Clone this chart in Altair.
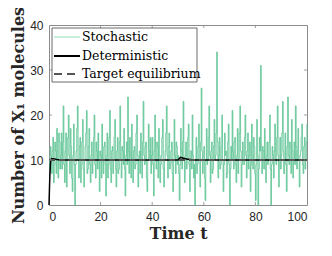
import altair as alt
import pandas as pd

stoch_vals = [
    10, 8, 13, 11, 7, 12, 15, 5, 9, 14, 12, 7, 17, 10, 6, 16, 14, 8, 11, 16,
    8, 14, 22, 9, 5, 12, 16, 4, 10, 15, 20, 11, 7, 17, 13, 6, 3, 11, 18, 9,
    0, 9, 12, 17, 22, 10, 6, 13, 15, 5, 9, 14, 19, 8, 4, 10, 13, 16, 21, 7,
    8, 13, 17, 9, 5, 11, 14, 7, 10, 15, 20, 9, 6, 14, 12, 8, 16, 10, 3, 12,
    11, 6, 18, 10, 7, 13, 14, 9, 2, 11, 16, 6, 9, 15, 21, 8, 5, 12, 13, 7,
    10, 15, 19, 8, 4, 12, 15, 7, 8, 14, 22, 10, 6, 13, 12, 9, 17, 8, 2, 11,
    14, 9, 24, 12, 7, 15, 11, 6, 18, 10, 5, 12, 13, 8, 9, 16, 20, 11, 4, 10,
    12, 7, 16, 10, 6, 14, 23, 11, 9, 13, 14, 6, 3, 10, 18, 12, 10, 15, 7, 11,
    15, 9, 2, 12, 20, 10, 8, 14, 13, 6, 17, 11, 5, 9, 11, 15, 19, 8, 4, 10,
    12, 16, 22, 11, 6, 13, 16, 8, 9, 12, 14, 7, 3, 10, 19, 11, 7, 14, 13, 9,
    11, 7, 1, 9, 17, 12, 8, 14, 23, 10, 5, 11, 14, 8, 10, 15, 18, 9, 3, 12,
    12, 8, 20, 11, 6, 9, 0, 10, 15, 7, 9, 13, 18, 10, 4, 14, 26, 12, 7, 11,
    13, 6, 1, 10, 17, 9, 10, 15, 22, 11, 5, 12, 14, 7, 8, 13, 19, 10, 11, 16,
    34, 14, 6, 11, 15, 8, 9, 13, 20, 10, 3, 9, 16, 11, 12, 6, 7, 14, 18, 9,
    0, 8, 13, 10, 21, 12, 8, 14, 15, 9, 5, 11, 17, 7, 10, 16, 22, 12, 4, 9,
    14, 10, 9, 15, 20, 11, 6, 12, 16, 8, 11, 14, 3, 9, 18, 11, 8, 15, 13, 7,
    1, 9, 19, 11, 0, 8, 15, 12, 31, 10, 7, 13, 12, 8, 17, 10, 5, 11, 14, 9,
    10, 14, 20, 8, 0, 9, 13, 11, 6, 12, 18, 10, 9, 15, 22, 11, 4, 10, 15, 8,
    11, 16, 23, 12, 7, 10, 16, 9, 3, 13, 24, 11, 9, 14, 13, 7, 19, 12, 6, 10,
    14, 9, 22, 13, 8, 12, 17, 10, 4, 11, 12, 15, 18, 9, 7, 13, 15, 8, 10, 14,
    18,
]
stoch_t = [i * 0.25 for i in range(len(stoch_vals))]

det_t = [0, 0.3, 0.6, 1, 2, 3, 5, 50, 51, 52, 54, 56, 100]
det_vals = [0, 6, 9.5, 10.3, 10.25, 10.1, 10, 10, 10.6, 10.4, 10.15, 10, 10]

target_t = [0, 100]
target_vals = [10, 10]

x_ticks = [0, 20, 40, 60, 80, 100]
y_ticks = [0, 10, 20, 30, 40]

series = ["Stochastic", "Deterministic", "Target equilibrium"]
colors = ["#5ac291", "#000000", "#555555"]
legend_colors = ["#8ee0b8", "#000000", "#555555"]
dashes = [[1, 0], [1, 0], [6, 4]]
legend_dashes = [[1, 0], [1, 0], [8, 5]]
widths = [1, 2, 2]

SERIF = "DejaVu Serif"
SANS = "Liberation Sans"

df_s = pd.DataFrame({"t": stoch_t, "y": stoch_vals, "series": series[0]})
df_d = pd.DataFrame({"t": det_t, "y": det_vals, "series": series[1]})
df_g = pd.DataFrame({"t": target_t, "y": target_vals, "series": series[2]})

xs = alt.Scale(domain=[0, 100], nice=False)
ys = alt.Scale(domain=[0, 40], nice=False)

enc_common = dict(
    color=alt.Color("series:N", scale=alt.Scale(domain=series, range=colors), legend=None),
    strokeDash=alt.StrokeDash("series:N", scale=alt.Scale(domain=series, range=dashes), legend=None),
    strokeWidth=alt.StrokeWidth("series:N", scale=alt.Scale(domain=series, range=widths), legend=None),
)

xaxis = alt.Axis(values=x_ticks, title="Time t", labelFont=SANS, labelFontSize=12,
                 labelColor="#262626", titleFont=SERIF, titleFontSize=16,
                 titleFontWeight="bold", titleColor="#262626", tickSize=0, domain=False,
                 grid=False, labelPadding=6, titlePadding=3)
yaxis = alt.Axis(values=y_ticks, title="Number of X\u2081 molecules", labelFont=SANS,
                 labelFontSize=12, labelColor="#262626", titleFont=SERIF,
                 titleFontSize=16, titleFontWeight="bold", titleColor="#262626", tickSize=0,
                 domain=False, grid=False, labelPadding=6, titlePadding=3)

stoch = alt.Chart(df_s).mark_line(interpolate="step-after").encode(
    x=alt.X("t:Q", scale=xs, axis=xaxis),
    y=alt.Y("y:Q", scale=ys, axis=yaxis),
    **enc_common,
)
det = alt.Chart(df_d).mark_line().encode(x=alt.X("t:Q", scale=xs), y=alt.Y("y:Q", scale=ys), **enc_common)
tgt = alt.Chart(df_g).mark_line().encode(x=alt.X("t:Q", scale=xs), y=alt.Y("y:Q", scale=ys), **enc_common)

# inside ticks on all four sides
df_xt = pd.DataFrame({"v": x_ticks[1:-1]})
df_yt = pd.DataFrame({"v": y_ticks[1:-1]})
tick_col = "#888888"
xb = alt.Chart(df_xt).mark_rule(color=tick_col, strokeWidth=0.8).encode(
    x=alt.X("v:Q", scale=xs), y=alt.value(180), y2=alt.value(177))
xt = alt.Chart(df_xt).mark_rule(color=tick_col, strokeWidth=0.8).encode(
    x=alt.X("v:Q", scale=xs), y=alt.value(0), y2=alt.value(3))
yl = alt.Chart(df_yt).mark_rule(color=tick_col, strokeWidth=0.8).encode(
    y=alt.Y("v:Q", scale=ys), x=alt.value(0), x2=alt.value(3))
yr = alt.Chart(df_yt).mark_rule(color=tick_col, strokeWidth=0.8).encode(
    y=alt.Y("v:Q", scale=ys), x=alt.value(258), x2=alt.value(255))

# legend (drawn as guide marks inside the plot, top-left)
df_box = pd.DataFrame({"k": [0]})
box = alt.Chart(df_box).mark_rect(fill="white", stroke="#444444", strokeWidth=0.8).encode(
    x=alt.value(3), x2=alt.value(148), y=alt.value(3), y2=alt.value(57))
leg_layers = [box]
row_y = [12, 31, 49]
for i, name in enumerate(series):
    d = pd.DataFrame({"series": [name]})
    leg_layers.append(
        alt.Chart(d).mark_rule(color=legend_colors[i], strokeWidth=widths[i],
                               strokeDash=legend_dashes[i]).encode(
            x=alt.value(5), x2=alt.value(31), y=alt.value(row_y[i]))
    )
    leg_layers.append(
        alt.Chart(d).mark_text(align="left", baseline="middle", font=SERIF, fontSize=12.5,
                               color="#000000").encode(
            text="series:N", x=alt.value(33), y=alt.value(row_y[i]))
    )

chart = alt.layer(stoch, det, tgt, xb, xt, yl, yr, *leg_layers).properties(
    width=258, height=180,
    autosize=alt.AutoSizeParams(type="none"),
    padding={"left": 41, "top": 17, "right": 15, "bottom": 40},
).configure_view(stroke="#8c8c8c", strokeWidth=1)

chart.save("out.html", embed_options={"renderer": "svg", "actions": False})
